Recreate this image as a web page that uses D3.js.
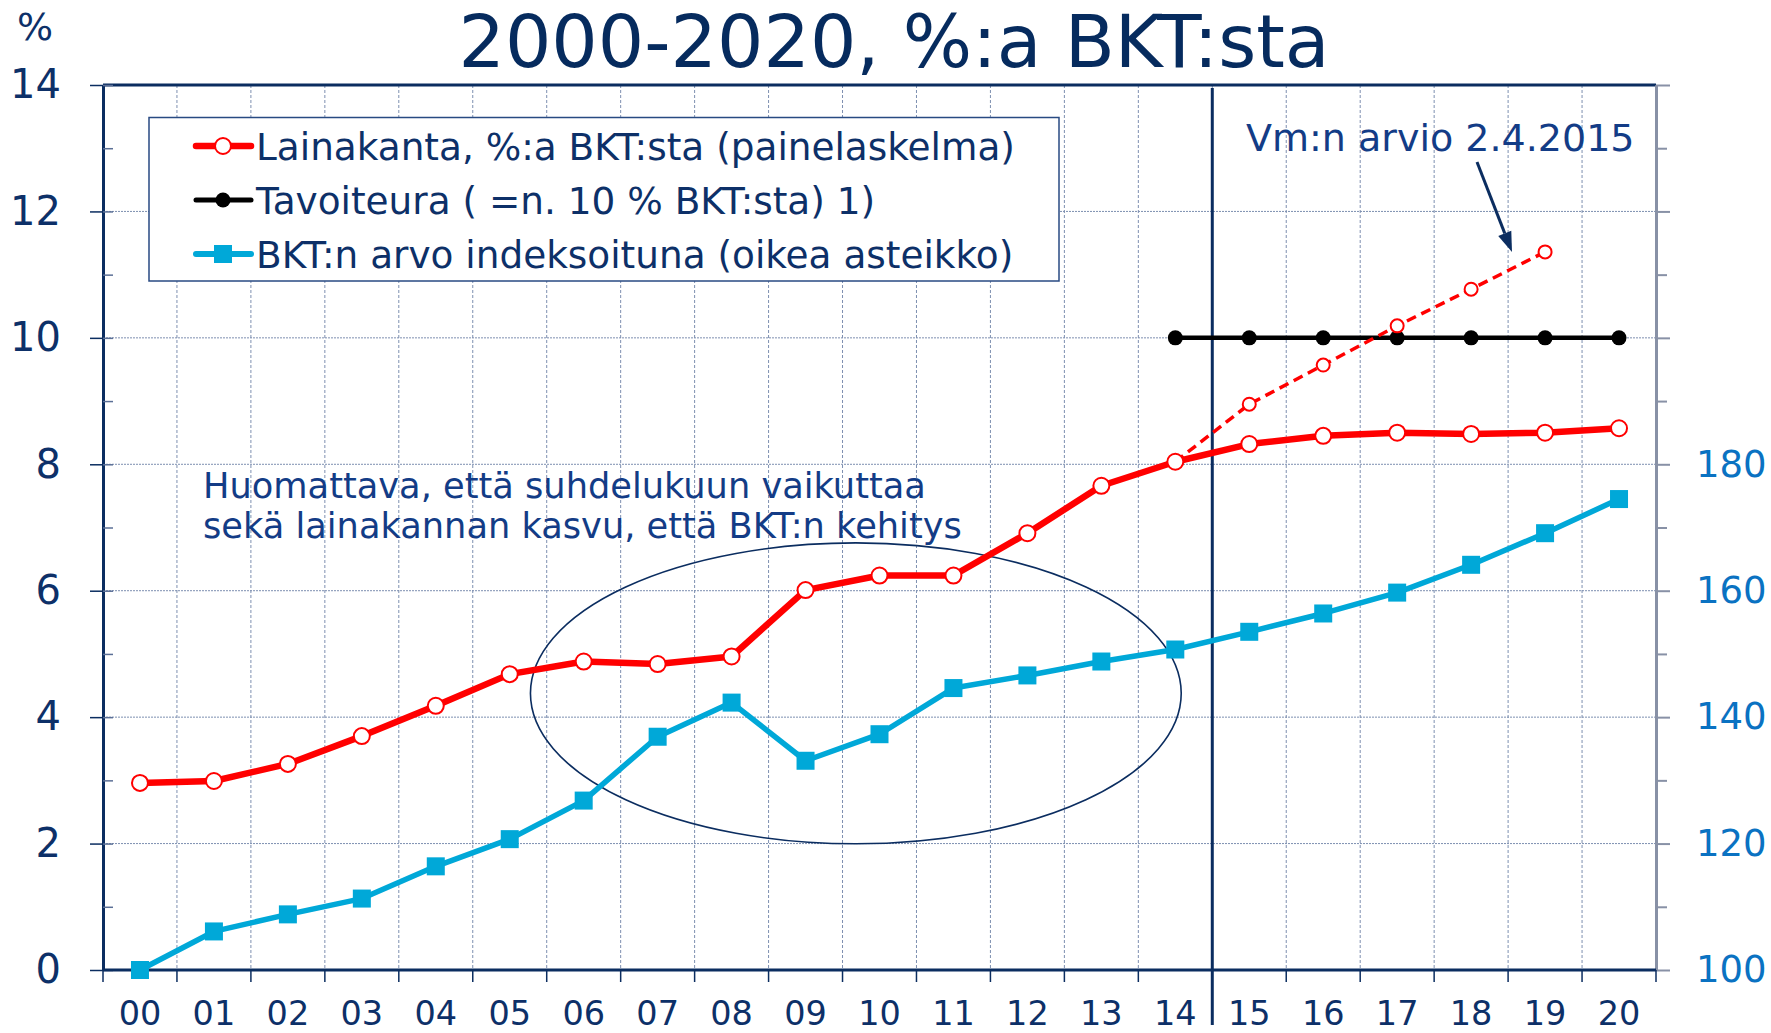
<!DOCTYPE html>
<html><head><meta charset="utf-8">
<script src="https://cdn.jsdelivr.net/npm/d3@7"></script>
<style>
html,body{margin:0;padding:0;background:#fff;}
svg{display:block;font-family:"DejaVu Sans",Verdana,sans-serif;}
</style></head>
<body>
<svg id="c" width="1771" height="1033"></svg>
<script>
// ---- data ----
const years = ["00","01","02","03","04","05","06","07","08","09","10","11","12","13","14","15","16","17","18","19","20"];
const lainakanta = [2.96, 2.99, 3.26, 3.70, 4.18, 4.68, 4.88, 4.84, 4.96, 6.01, 6.24, 6.24, 6.91, 7.66, 8.04, 8.32, 8.45, 8.50, 8.48, 8.50, 8.57];
const arvioYears = ["14","15","16","17","18","19"];
const arvio = [8.04, 8.95, 9.57, 10.19, 10.77, 11.36];
const tavoiteYears = ["14","15","16","17","18","19","20"];
const tavoite = [10, 10, 10, 10, 10, 10, 10];
const bktIndex = [100, 106.1, 108.8, 111.3, 116.4, 120.7, 126.8, 136.9, 142.3, 133.1, 137.3, 144.6, 146.6, 148.8, 150.7, 153.5, 156.4, 159.7, 164.1, 169.1, 174.5];
const leftTicks = [0, 2, 4, 6, 8, 10, 12, 14];
const leftMinor = [0,1,2,3,4,5,6,7,8,9,10,11,12,13,14];
const rightTicks = [100, 120, 140, 160, 180, 200, 220, 240];
const rightMinor = [110, 130, 150, 170, 190, 210, 230];
const rightLabels = [100, 120, 140, 160, 180];
const legendNames = ["Lainakanta, %:a BKT:sta (painelaskelma)", "Tavoiteura ( =n. 10 % BKT:sta) 1)", "BKT:n arvo indeksoituna (oikea asteikko)"];
const titleText = "2000-2020, %:a BKT:sta";
const noteLines = ["Huomattava, että suhdelukuun vaikuttaa", "sekä lainakannan kasvu, että BKT:n kehitys"];
const arvioNote = "Vm:n arvio 2.4.2015";

// ---- colours ----
const NAVY = "#0b2d60", RED = "#ff0000", BLUE = "#00a8d8", RBLUE = "#0a72c2", GRID = "#7d8fb0", TXT = "#0d3068", NOTE = "#133c86";

const svg = d3.select("#c");
const L = 103, R = 1656, T = 85, B = 970;
const x = d3.scaleBand().domain(years).range([L, R]);
const bw = x.bandwidth();
const cx = d => x(d) + bw / 2;
const yL = d3.scaleLinear().domain([0, 14]).range([B, T]);
const yR = d3.scaleLinear().domain([100, 240]).range([B, T]);

// gridlines
const g = svg.append("g");
g.selectAll("line.h").data([2,4,6,8,10,12]).join("line")
  .attr("x1", L).attr("x2", R).attr("y1", d => yL(d)).attr("y2", d => yL(d))
  .attr("stroke", GRID).attr("stroke-width", 1).attr("stroke-dasharray", "2,1");
g.selectAll("line.v").data(years.slice(1)).join("line")
  .attr("x1", d => x(d)).attr("x2", d => x(d)).attr("y1", T).attr("y2", B)
  .attr("stroke", GRID).attr("stroke-width", 1).attr("stroke-dasharray", "3,2");

// legend box (white, hides grid)
const lg = svg.append("g");
lg.append("rect").attr("x", 149).attr("y", 117.5).attr("width", 910).attr("height", 163.5)
  .attr("fill", "#fff").attr("stroke", "#284a82").attr("stroke-width", 1.5);
const rowsY = [146, 200, 254];
lg.append("line").attr("x1", 196).attr("x2", 251).attr("y1", rowsY[0]).attr("y2", rowsY[0]).attr("stroke", RED).attr("stroke-width", 6.5).attr("stroke-linecap","round");
lg.append("circle").attr("cx", 223).attr("cy", rowsY[0]).attr("r", 8).attr("fill", "#fff").attr("stroke", RED).attr("stroke-width", 2);
lg.append("line").attr("x1", 196).attr("x2", 251).attr("y1", rowsY[1]).attr("y2", rowsY[1]).attr("stroke", "#000").attr("stroke-width", 5).attr("stroke-linecap","round");
lg.append("circle").attr("cx", 223).attr("cy", rowsY[1]).attr("r", 7.5).attr("fill", "#000");
lg.append("line").attr("x1", 196).attr("x2", 251).attr("y1", rowsY[2]).attr("y2", rowsY[2]).attr("stroke", BLUE).attr("stroke-width", 6).attr("stroke-linecap","round");
lg.append("rect").attr("x", 223 - 9).attr("y", rowsY[2] - 9).attr("width", 18).attr("height", 18).attr("fill", BLUE);
lg.selectAll("text").data(legendNames).join("text")
  .attr("x", 256).attr("y", (d, i) => rowsY[i] + 13.5)
  .attr("font-size", 37.4).attr("fill", TXT).text(d => d);

// top border
svg.append("line").attr("x1", L).attr("x2", R).attr("y1", T).attr("y2", T).attr("stroke", NAVY).attr("stroke-width", 3);

// left axis: outside major ticks with labels
const la = svg.append("g").attr("transform", `translate(${L},0)`)
  .call(d3.axisLeft(yL).tickValues(leftTicks).tickSizeInner(13).tickSizeOuter(0).tickPadding(29));
const lai = svg.append("g").attr("transform", `translate(${L},0)`)
  .call(d3.axisRight(yL).tickValues(leftMinor).tickSizeInner(10).tickSizeOuter(0).tickFormat(""));
[la, lai].forEach(a => {
  a.select(".domain").attr("stroke", NAVY).attr("stroke-width", 3);
  a.selectAll(".tick line").attr("stroke", NAVY).attr("stroke-width", 1.5);
});
lai.selectAll(".tick line").attr("stroke", "#5b6f96");
la.selectAll(".tick text").attr("font-size", 40).attr("fill", TXT).attr("font-family", "DejaVu Sans");

// right axis
const ra = svg.append("g").attr("transform", `translate(${R},0)`)
  .call(d3.axisRight(yR).tickValues(rightTicks).tickSizeInner(14).tickSizeOuter(0).tickPadding(26)
    .tickFormat(d => rightLabels.includes(d) ? d : ""));
const ram = svg.append("g").attr("transform", `translate(${R},0)`)
  .call(d3.axisRight(yR).tickValues(rightMinor).tickSizeInner(11).tickSizeOuter(0).tickFormat(""));
[ra, ram].forEach(a => {
  a.select(".domain").attr("stroke", "#8891a6").attr("stroke-width", 3);
  a.selectAll(".tick line").attr("stroke", "#8891a6").attr("stroke-width", 2);
});
ra.selectAll(".tick text").attr("font-size", 37).attr("fill", RBLUE).attr("font-family", "DejaVu Sans");

// bottom axis
const xa = svg.append("g").attr("transform", `translate(0,${B})`)
  .call(d3.axisBottom(x).tickSize(0).tickPadding(31));
xa.select(".domain").remove();
xa.selectAll(".tick text").attr("font-size", 33.5).attr("fill", TXT).attr("font-family", "DejaVu Sans");
svg.append("line").attr("x1", L).attr("x2", R).attr("y1", B).attr("y2", B).attr("stroke", NAVY).attr("stroke-width", 3);
svg.append("g").selectAll("line").data(years.map(d => x(d)).concat([R])).join("line")
  .attr("x1", d => d).attr("x2", d => d).attr("y1", B).attr("y2", B + 12)
  .attr("stroke", NAVY).attr("stroke-width", 1.5);

// separator between history and forecast
svg.append("line").attr("x1", x("15")).attr("x2", x("15")).attr("y1", T + 3).attr("y2", 1025)
  .attr("stroke", NAVY).attr("stroke-width", 3);

// ellipse annotation (in data units)
const eCx = 9.68, eCy = 4.376, eRx = 4.4, eRy = 2.38;
svg.append("ellipse")
  .attr("cx", x(years[0]) + (eCx + 0.5) * bw).attr("cy", yL(eCy))
  .attr("rx", eRx * bw).attr("ry", yL(0) - yL(eRy))
  .attr("fill", "none").attr("stroke", NAVY).attr("stroke-width", 1.6);

// series: blue (right axis)
const lineB = d3.line().x((d, i) => cx(years[i])).y(d => yR(d));
svg.append("path").attr("d", lineB(bktIndex)).attr("fill", "none").attr("stroke", BLUE).attr("stroke-width", 5.5).attr("stroke-linejoin", "round");
svg.append("g").selectAll("rect").data(bktIndex).join("rect")
  .attr("x", (d, i) => cx(years[i]) - 9).attr("y", d => yR(d) - 9).attr("width", 18).attr("height", 18).attr("fill", BLUE);

// black target
const lineK = d3.line().x((d, i) => cx(tavoiteYears[i])).y(d => yL(d));
svg.append("path").attr("d", lineK(tavoite)).attr("fill", "none").attr("stroke", "#000").attr("stroke-width", 4.5);
svg.append("g").selectAll("circle").data(tavoite).join("circle")
  .attr("cx", (d, i) => cx(tavoiteYears[i])).attr("cy", d => yL(d)).attr("r", 7.5).attr("fill", "#000");

// red dashed projection
const lineA = d3.line().x((d, i) => cx(arvioYears[i])).y(d => yL(d));
svg.append("path").attr("d", lineA(arvio)).attr("fill", "none").attr("stroke", RED).attr("stroke-width", 3.5).attr("stroke-dasharray", "10,6");
svg.append("g").selectAll("circle").data(arvio.slice(1)).join("circle")
  .attr("cx", (d, i) => cx(arvioYears[i + 1])).attr("cy", d => yL(d)).attr("r", 6.5).attr("fill", "#fff").attr("stroke", RED).attr("stroke-width", 2);

// red solid
const lineR = d3.line().x((d, i) => cx(years[i])).y(d => yL(d));
svg.append("path").attr("d", lineR(lainakanta)).attr("fill", "none").attr("stroke", RED).attr("stroke-width", 6.5).attr("stroke-linejoin", "round");
svg.append("g").selectAll("circle").data(lainakanta).join("circle")
  .attr("cx", (d, i) => cx(years[i])).attr("cy", d => yL(d)).attr("r", 8).attr("fill", "#fff").attr("stroke", RED).attr("stroke-width", 2);

// title & unit
svg.append("text").attr("x", 894).attr("y", 67).attr("text-anchor", "middle")
  .attr("font-size", 73).attr("fill", "#062b5e").text(titleText);
svg.append("text").attr("x", 17).attr("y", 40).attr("font-size", 38).attr("fill", TXT).text("%");

// note text
svg.append("g").selectAll("text").data(noteLines).join("text")
  .attr("x", 203).attr("y", (d, i) => 498 + i * 40).attr("font-size", 35.2).attr("fill", NOTE).text(d => d);

// Vm:n arvio + arrow
svg.append("text").attr("x", 1246).attr("y", 151).attr("font-size", 38).attr("fill", NOTE).text(arvioNote);
const ax1 = 1477, ay1 = 162, ax2 = 1512, ay2 = 252;
const ang = Math.atan2(ay2 - ay1, ax2 - ax1);
const hl = 20, hw = 7;
const bx = ax2 - hl * Math.cos(ang), by = ay2 - hl * Math.sin(ang);
svg.append("line").attr("x1", ax1).attr("y1", ay1).attr("x2", bx).attr("y2", by).attr("stroke", NAVY).attr("stroke-width", 3);
svg.append("path").attr("d", `M${ax2},${ay2}L${bx + hw * Math.sin(ang)},${by - hw * Math.cos(ang)}L${bx - hw * Math.sin(ang)},${by + hw * Math.cos(ang)}Z`).attr("fill", NAVY);
</script>
</body></html>
